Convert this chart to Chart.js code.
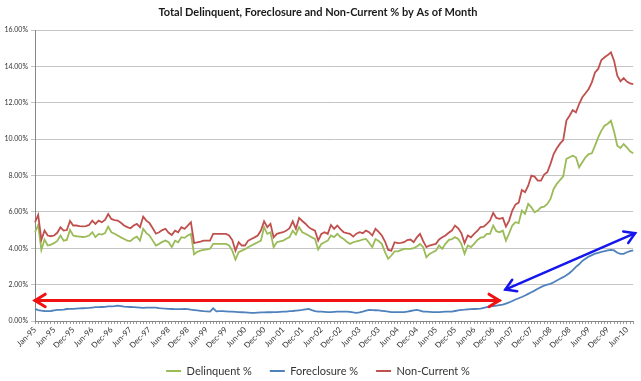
<!DOCTYPE html>
<html>
<head>
<meta charset="utf-8">
<script src="https://cdn.jsdelivr.net/npm/chart.js@4.4.1/dist/chart.umd.min.js"></script>
<style>
  html, body { margin: 0; padding: 0; background: #ffffff; }
  #wrap { width: 641px; height: 381px; }
</style>
</head>
<body>
<div id="wrap"><canvas id="c" width="641" height="381"></canvas></div>
<script>
// ---- data (percent), monthly from Jan-95 ----
const delinquent = [
  4.88,5.28,3.91,4.48,4.15,4.20,4.28,4.40,4.70,4.42,
  4.46,5.01,4.70,4.66,4.64,4.62,4.64,4.70,4.88,4.61,
  4.79,4.75,4.83,5.19,4.88,4.80,4.70,4.60,4.51,4.42,
  4.39,4.55,4.64,4.42,5.07,4.83,4.70,4.42,4.15,4.24,
  4.35,4.42,4.33,4.06,4.42,4.33,4.61,4.57,4.70,4.79,
  3.66,3.80,3.87,3.91,3.94,3.97,4.24,4.24,4.24,4.24,
  4.24,4.15,3.87,3.38,3.78,3.87,3.95,4.06,4.15,4.24,
  4.33,4.42,5.16,4.79,4.88,4.06,4.33,4.38,4.42,4.52,
  4.61,4.97,4.75,5.16,4.88,4.80,4.70,4.60,4.51,3.93,
  4.24,4.33,4.42,4.70,4.61,4.79,4.61,4.51,4.35,4.24,
  4.33,4.38,4.42,4.48,4.51,4.30,4.06,4.51,4.40,4.24,
  3.78,3.42,3.60,3.83,3.83,3.90,3.97,3.97,3.97,4.00,
  4.10,4.24,4.06,3.50,3.69,3.78,3.87,4.15,3.97,4.24,
  4.45,4.50,4.61,4.51,4.24,3.69,4.15,4.06,4.24,4.45,
  4.58,4.61,4.79,4.79,5.25,4.94,4.88,4.97,4.42,4.82,
  5.25,5.43,5.38,6.07,5.89,6.44,6.25,5.98,6.07,6.25,
  6.29,6.44,6.71,7.26,7.54,7.75,7.95,8.91,9.00,9.09,
  9.00,8.45,8.73,9.00,9.18,9.22,9.64,10.10,10.47,10.74,
  10.85,11.01,10.40,9.64,9.51,9.73,9.55,9.33,9.22
];
const foreclosure = [
  0.67,0.60,0.57,0.55,0.54,0.55,0.58,0.61,0.61,0.63,
  0.66,0.67,0.67,0.68,0.69,0.70,0.71,0.72,0.74,0.76,
  0.76,0.77,0.78,0.80,0.80,0.82,0.85,0.82,0.79,0.78,
  0.77,0.76,0.75,0.74,0.72,0.73,0.74,0.74,0.74,0.71,
  0.69,0.68,0.67,0.66,0.65,0.65,0.65,0.66,0.65,0.62,
  0.60,0.58,0.56,0.54,0.53,0.52,0.70,0.53,0.54,0.54,
  0.53,0.52,0.51,0.50,0.49,0.48,0.47,0.46,0.45,0.45,
  0.46,0.47,0.47,0.48,0.48,0.49,0.49,0.50,0.51,0.52,
  0.54,0.55,0.57,0.59,0.61,0.64,0.67,0.60,0.54,0.52,
  0.51,0.50,0.49,0.49,0.50,0.51,0.52,0.52,0.52,0.50,
  0.47,0.45,0.48,0.52,0.57,0.61,0.60,0.59,0.58,0.56,
  0.54,0.52,0.49,0.49,0.49,0.49,0.49,0.52,0.55,0.58,
  0.61,0.57,0.52,0.51,0.50,0.49,0.49,0.49,0.50,0.51,
  0.52,0.52,0.55,0.58,0.61,0.62,0.64,0.65,0.66,0.67,
  0.68,0.72,0.76,0.80,0.82,0.84,0.87,0.90,0.96,1.02,
  1.10,1.18,1.25,1.32,1.40,1.49,1.58,1.67,1.77,1.86,
  1.95,2.00,2.04,2.13,2.23,2.32,2.41,2.52,2.64,2.80,
  2.98,3.12,3.30,3.42,3.54,3.62,3.70,3.75,3.80,3.84,
  3.88,3.91,3.88,3.75,3.69,3.69,3.78,3.84,3.88
];
const nonCurrent = [
  5.43,5.83,4.46,4.97,4.70,4.66,4.70,4.85,5.15,4.97,
  5.00,5.50,5.25,5.25,5.22,5.20,5.22,5.28,5.52,5.34,
  5.52,5.43,5.56,5.88,5.61,5.55,5.52,5.40,5.25,5.16,
  5.10,5.25,5.34,5.16,5.74,5.52,5.38,5.10,4.80,4.88,
  5.00,5.07,4.85,4.73,4.97,4.88,5.16,5.07,5.25,5.43,
  4.28,4.33,4.37,4.42,4.42,4.42,4.79,4.79,4.79,4.79,
  4.79,4.70,4.45,3.87,4.33,4.15,4.15,4.42,4.51,4.60,
  4.70,4.97,5.48,5.16,5.34,4.60,4.79,4.85,4.88,4.97,
  5.10,5.48,5.07,5.67,5.50,5.35,5.16,5.05,4.97,4.42,
  4.79,4.88,4.79,5.28,5.07,5.25,5.05,4.88,4.83,4.79,
  4.64,4.80,4.88,4.83,4.97,4.88,4.70,5.07,4.90,4.70,
  4.37,3.91,3.87,4.33,4.28,4.30,4.33,4.45,4.48,4.33,
  4.60,4.79,4.39,4.06,4.15,4.20,4.24,4.48,4.60,4.70,
  4.85,4.97,5.25,5.10,4.83,4.28,4.70,4.60,4.79,4.95,
  5.16,5.19,5.34,5.52,5.94,5.67,5.62,5.67,5.19,5.52,
  6.07,6.40,6.51,7.20,7.08,7.44,7.99,7.94,7.72,7.72,
  8.05,8.18,8.64,9.18,9.50,9.75,9.95,11.02,11.29,11.60,
  11.47,11.93,12.30,12.52,12.76,13.12,13.67,13.86,14.35,14.50,
  14.62,14.77,14.30,13.49,13.18,13.36,13.16,13.07,13.03
];
const seriesNames = ['Delinquent %', 'Foreclosure %', 'Non-Current %'];
const seriesColors = ['#9bbb59', '#4f81bd', '#c0504d'];
const title = 'Total Delinquent, Foreclosure and Non-Current % by As of Month';

// category labels (source repeats the first month once)
const monthNames = ['Jan','Feb','Mar','Apr','May','Jun','Jul','Aug','Sep','Oct','Nov','Dec'];
const months = [];
for (let i = 0; i < nonCurrent.length; i++) {
  const k = Math.max(0, i - 1);
  const yy = (95 + Math.floor(k / 12)) % 100;
  months.push(monthNames[k % 12] + '-' + String(yy).padStart(2, '0'));
}
const labelEvery = 6;

// annotation arrows: [categoryIndex, value%]
const redArrow = [[0, 1.13], [145.9, 1.13]];
const blueArrow = [[147.8, 1.73], [188.6, 4.83]];

function drawArrow(ctx, p1, p2, color, width, head) {
  ctx.save();
  ctx.strokeStyle = color;
  ctx.lineWidth = width;
  ctx.lineCap = 'round';
  ctx.lineJoin = 'miter';
  ctx.beginPath(); ctx.moveTo(p1[0], p1[1]); ctx.lineTo(p2[0], p2[1]); ctx.stroke();
  const a = Math.atan2(p2[1] - p1[1], p2[0] - p1[0]);
  [[p2, a], [p1, a + Math.PI]].forEach(([p, ang]) => {
    ctx.beginPath();
    ctx.moveTo(p[0] - head * Math.cos(ang - 0.55), p[1] - head * Math.sin(ang - 0.55));
    ctx.lineTo(p[0], p[1]);
    ctx.lineTo(p[0] - head * Math.cos(ang + 0.55), p[1] - head * Math.sin(ang + 0.55));
    ctx.stroke();
  });
  ctx.restore();
}

const arrowPlugin = {
  id: 'arrows',
  afterDatasetsDraw(chart) {
    const x = chart.scales.x, y = chart.scales.y, ctx = chart.ctx;
    const px = (p) => [x.getPixelForValue(p[0]), y.getPixelForValue(p[1])];
    drawArrow(ctx, px(redArrow[0]), px(redArrow[1]), '#f01212', 3, 12);
    drawArrow(ctx, px(blueArrow[0]), px(blueArrow[1]), '#1515ee', 2.5, 12);
  }
};
const bgPlugin = {
  id: 'bg',
  beforeDraw(chart) {
    const ctx = chart.ctx;
    ctx.save(); ctx.fillStyle = '#ffffff'; ctx.fillRect(0, 0, chart.width, chart.height); ctx.restore();
  }
};

const seriesData = [delinquent, foreclosure, nonCurrent];

new Chart(document.getElementById('c'), {
  type: 'line',
  data: {
    labels: months,
    datasets: seriesData.map((d, i) => ({
      label: seriesNames[i], data: d,
      borderColor: seriesColors[i], backgroundColor: seriesColors[i],
      pointBorderColor: seriesColors[i], pointBackgroundColor: seriesColors[i],
      order: 3 - i
    }))
  },
  options: {
    responsive: false,
    devicePixelRatio: 1,
    animation: false,
    elements: { point: { radius: 0 }, line: { borderWidth: 1.8, tension: 0 } },
    layout: { padding: { left: 0, right: 5, top: 0, bottom: 0 } },
    plugins: {
      title: {
        display: true, text: title, color: '#1a1a1a',
        font: { family: 'Lato', size: 11, weight: 'bold' },
        padding: { top: 6, bottom: 10.8 }
      },
      legend: {
        position: 'bottom',
        maxHeight: 33.5,
        labels: {
          usePointStyle: true, pointStyle: 'line', pointStyleWidth: 15,
          font: { family: 'Lato', size: 11 }, color: '#333', padding: 18,
          sort: (a, b) => a.datasetIndex - b.datasetIndex,
          generateLabels: (chart) => Chart.defaults.plugins.legend.labels.generateLabels(chart).map((it) => ({
            ...it,
            strokeStyle: seriesColors[it.datasetIndex],
            fillStyle: seriesColors[it.datasetIndex],
            lineWidth: 2,
            pointStyle: 'line'
          }))
        }
      },
      tooltip: { enabled: false }
    },
    scales: {
      x: {
        offset: false,
        grid: { display: true, drawOnChartArea: false, drawTicks: true, tickLength: 3, color: '#9a9a9a' },
        border: { color: '#868686' },
        ticks: {
          autoSkip: false, maxRotation: 45, minRotation: 45, padding: 1,
          font: { family: 'Lato', size: 8 }, color: '#333',
          callback: (v, i) => (i % labelEvery === 0 ? months[i] : '')
        },
        afterFit: (s) => { s.height = 26.5; }
      },
      y: {
        min: 0, max: 16,
        ticks: {
          stepSize: 2, padding: 3,
          font: { family: 'Lato', size: 7 }, color: '#333',
          callback: (v) => v.toFixed(2) + '%'
        },
        grid: { color: '#c4c4c4', tickLength: 4 },
        border: { color: '#868686' },
        afterFit: (s) => { s.width = 35; }
      }
    }
  },
  plugins: [bgPlugin, arrowPlugin]
});
</script>
</body>
</html>
